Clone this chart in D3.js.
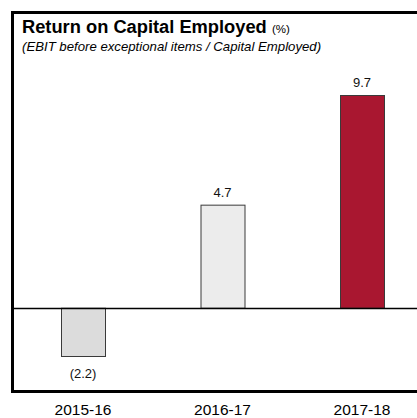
<!DOCTYPE html>
<html>
<head>
<meta charset="utf-8">
<script src="https://cdn.jsdelivr.net/npm/d3@7"></script>
<style>
  body { margin: 0; background: #fff; }
  svg { display: block; font-family: "Liberation Sans", Arial, Helvetica, sans-serif; }
</style>
</head>
<body>
<svg id="chart"></svg>
<script>
const years = ["2015-16", "2016-17", "2017-18"];
const roce = [-2.2, 4.7, 9.7];
const valueLabels = ["(2.2)", "4.7", "9.7"];
const barColors = ["#dcdcdc", "#ececec", "#a91730"];

const width = 417, height = 418;
const svg = d3.select("#chart").attr("width", width).attr("height", height);

// plot area inside the frame
const x = d3.scalePoint()
    .domain(years)
    .range([83, 362]);

const y = d3.scaleLinear()
    .domain([-2.2, 9.7])
    .range([356, 95]);

const barWidth = 44;

// frame (right side runs off the picture)
svg.append("path")
    .attr("d", `M${width + 5},12.5 H12.5 V391.5 H${width + 5}`)
    .attr("fill", "none")
    .attr("stroke", "#000")
    .attr("stroke-width", 3);

svg.append("text")
    .attr("x", 22)
    .attr("y", 33)
    .attr("font-size", 18.3)
    .attr("font-weight", "bold")
    .attr("fill", "#000")
    .text("Return on Capital Employed ")
  .append("tspan")
    .attr("font-size", 11.5)
    .attr("font-weight", "normal")
    .text("(%)");

svg.append("text")
    .attr("x", 22)
    .attr("y", 51)
    .attr("font-size", 13.2)
    .attr("font-style", "italic")
    .attr("fill", "#000")
    .text("(EBIT before exceptional items / Capital Employed)");

svg.selectAll(".bar")
    .data(roce)
    .enter().append("rect")
    .attr("class", "bar")
    .attr("x", (d, i) => x(years[i]) - barWidth / 2 + 0.5)
    .attr("y", d => Math.min(y(d), y(0)) + 0.5)
    .attr("width", barWidth)
    .attr("height", d => Math.abs(y(d) - y(0)))
    .attr("fill", (d, i) => barColors[i])
    .attr("stroke", "#3a3a3a")
    .attr("stroke-width", 1);

// zero line
svg.append("line")
    .attr("x1", 14)
    .attr("x2", width)
    .attr("y1", Math.round(y(0)) + 0.5)
    .attr("y2", Math.round(y(0)) + 0.5)
    .attr("stroke", "#000")
    .attr("stroke-width", 1.5);

svg.selectAll(".value")
    .data(roce)
    .enter().append("text")
    .attr("class", "value")
    .attr("x", (d, i) => x(years[i]))
    .attr("y", d => d >= 0 ? y(d) - 8 : y(d) + 22)
    .attr("text-anchor", "middle")
    .attr("font-size", 13)
    .attr("transform-origin", "center")
    .attr("fill", "#111")
    .text((d, i) => valueLabels[i]);

svg.selectAll(".year")
    .data(years)
    .enter().append("text")
    .attr("class", "year")
    .attr("x", d => x(d))
    .attr("y", 415)
    .attr("text-anchor", "middle")
    .attr("font-size", 15.5)
    .attr("fill", "#000")
    .text(d => d);
</script>
</body>
</html>
